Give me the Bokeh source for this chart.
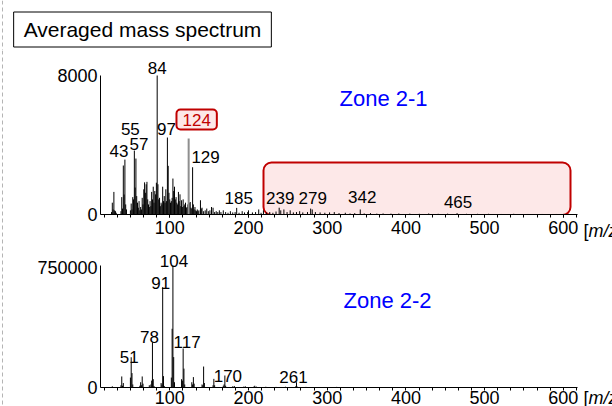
from bokeh.plotting import figure
from bokeh.layouts import column, row
from bokeh.models import (Range1d, FixedTicker, Label, BoxAnnotation, ColumnDataSource,
                          BasicTickFormatter, Span)
from bokeh.embed import file_html
from bokeh.resources import INLINE

# ---------------- data ----------------
x_ticks = [100, 200, 300, 400, 500, 600]
top_y_ticks = [0, 8000]
bot_y_ticks = [0, 750000]

# Zone 2-1 (averaged spectrum, top)
mz_top = [26, 27, 28, 29, 30, 31, 32, 38, 39, 40,
          41, 42, 43, 44, 45, 50, 51, 52, 53, 54,
          55, 56, 57, 58, 59, 60, 61, 62, 63, 64,
          65, 66, 67, 68, 69, 70, 71, 72, 73, 74,
          75, 76, 77, 78, 79, 80, 81, 82, 83, 84,
          85, 86, 87, 88, 89, 90, 91, 92, 93, 94,
          95, 96, 97, 98, 99, 100, 101, 102, 103, 104,
          105, 106, 107, 108, 109, 110, 111, 112, 113, 114,
          115, 116, 117, 118, 119, 120, 121, 122, 123, 125,
          126, 127, 128, 129, 130, 131, 132, 133, 134, 135,
          136, 137, 139, 140, 141, 143, 145, 147, 149, 151,
          153, 155, 157, 159, 161, 163, 165, 168, 171, 174,
          177, 180, 183, 185, 188, 192, 195, 199, 200, 205,
          209, 213, 216, 219, 223, 227, 231, 235, 239, 241,
          245, 249, 253, 257, 261, 265, 269, 275, 279, 281,
          285, 291, 297, 303, 309, 315, 323, 329, 335, 342,
          347, 355, 363, 371, 381, 391, 405, 417, 429, 441,
          453, 465, 477, 491, 505, 521, 537, 555, 573, 591]
int_top = [140, 680, 290, 1300, 240, 190, 100, 190, 1000, 340,
           2820, 1150, 3160, 580, 290, 240, 630, 290, 1000, 870,
           3680, 1550, 3220, 1060, 680, 390, 770, 240, 430, 290,
           960, 580, 1450, 1850, 1250, 1740, 1880, 870, 580, 430,
           770, 480, 1300, 870, 1600, 680, 1350, 1160, 1830, 8000,
           1740, 870, 960, 480, 680, 580, 1600, 770, 1060, 680,
           1450, 770, 4430, 2800, 1250, 870, 680, 770, 960, 2070,
           1350, 1600, 870, 1000, 680, 580, 1300, 770, 1160, 480,
           820, 430, 870, 480, 580, 680, 390, 430, 580, 680,
           720, 390, 340, 2720, 580, 290, 430, 240, 190, 290,
           190, 240, 820, 340, 390, 190, 240, 340, 190, 240,
           430, 390, 140, 190, 140, 240, 140, 240, 140, 100,
           190, 120, 140, 380, 100, 190, 120, 140, 240, 120,
           140, 290, 100, 240, 120, 140, 100, 170, 390, 240,
           290, 140, 240, 120, 140, 190, 120, 140, 340, 290,
           140, 120, 100, 120, 140, 80, 100, 60, 80, 290,
           60, 80, 50, 60, 50, 60, 50, 40, 60, 40,
           50, 80, 40, 40, 40, 30, 40, 30, 30, 30]
mz_marked = [124]
int_marked = [4370]

# Zone 2-2 (bottom)
mz_bot = [27, 38, 39, 40, 41, 50, 51, 52, 53, 62, 63, 64, 65, 66,
          74, 76, 77, 78, 79, 80, 89, 90, 91, 92, 93,
          102, 103, 104, 105, 106, 115, 116, 117, 118, 119,
          128, 129, 130, 131, 141, 142, 143, 144, 155, 156, 157,
          168, 169, 170, 171, 180, 182, 194, 196, 207, 208, 210,
          222, 235, 247, 260, 261, 262, 273, 287, 300, 312, 325, 338]
int_bot = [7600, 14000, 69000, 11000, 28000, 62000, 189000, 90000, 19000, 11000, 33000, 14000, 69000, 24000,
           14000, 19000, 43000, 283000, 52000, 9500, 28000, 19000, 627000, 71000, 9500,
           62000, 367000, 760000, 190000, 33000, 52000, 43000, 244000, 118000, 19000,
           33000, 19000, 65000, 24000, 19000, 14000, 131000, 28000, 14000, 54000, 14000,
           11000, 19000, 75000, 11000, 7600, 9500, 5700, 7600, 6600, 11000, 5700,
           4700, 3800, 4700, 7600, 33000, 5700, 3800, 2800, 2800, 3800, 2400, 1900]

top_label_mz = [84, 55, 57, 43, 97, 129, 185, 239, 279, 342, 465]
bot_label_mz = [104, 91, 78, 117, 51, 170, 261]
marked_label = "124"
zone_top = "Zone 2-1"
zone_bot = "Zone 2-2"
title_text = "Averaged mass spectrum"
unit_bracket = "["
unit_text = "m/z"

assert len(mz_top) == len(int_top) and len(mz_bot) == len(int_bot)

# ---------------- layout constants (page pixels) ----------------
FONT = "Liberation Sans"
PAGE_W = 612
DASH_W = 4
MAIN_W = 576            # page x 4 .. 580
SIDE_W = 32             # page x 580 .. 612
TITLE_H = 50
TOP_H = 194             # page y 50 .. 244
BOT_H = 162             # page y 244 .. 406
X0, X1 = 12, 618
TOP_AX_MAX = 8000
TOP_PX = 8000 / 139.0          # data per px (axis 75..214)
TOP_YMAX = TOP_PX * (214 - 50)
BOT_PX = 6250.0
BOT_AX_MAX = BOT_PX * (387 - 265)
BOT_YMAX = BOT_PX * (387 - 244)
RED = "#c00000"
PINK = "#fde8e8"
DASH_COLOR = "#b4b4b4"

top_offsets = {84: (0, 8), 55: (-4, 22), 57: (3, 15), 43: (-6, 9), 97: (-1, 9),
               129: (13, 10), 185: (2, 10), 239: (1, 10), 279: (2, 11), 342: (2, 12), 465: (1, 11)}
bot_offsets = {104: (1, 5), 91: (-2, 4), 78: (-3, 5), 117: (4, 6), 51: (-2, 0), 170: (3, 0), 261: (-3, 5)}

minor = [k * 100.0 / 6 for k in range(1, 38) if k * 100.0 / 6 < X1]


def px_x(px):
    return X0 + (px - 100) / 477.0 * (X1 - X0)


def blank(w, h, xr, yr):
    p = figure(width=w, height=h, x_range=Range1d(*xr), y_range=Range1d(*yr),
               output_backend="svg", toolbar_location=None,
               x_axis_location=None, y_axis_location=None, min_border=0)
    p.grid.visible = False
    p.outline_line_color = None
    p.background_fill_color = "white"
    p.border_fill_color = "white"
    return p


def make_fig(h, bbot, ymax, yticks, axmax):
    p = figure(width=MAIN_W, height=h, x_range=Range1d(X0, X1), y_range=Range1d(0, ymax),
               output_backend="svg", toolbar_location=None,
               min_border_left=96, min_border_right=3,
               min_border_top=0, min_border_bottom=bbot)
    p.grid.visible = False
    p.outline_line_color = None
    p.background_fill_color = "white"
    p.border_fill_color = "white"
    xa = p.xaxis[0]
    xa.ticker = FixedTicker(ticks=x_ticks, minor_ticks=minor)
    xa.axis_line_color = "black"
    xa.major_tick_line_color = "black"
    xa.minor_tick_line_color = "black"
    xa.major_tick_out = 3
    xa.major_tick_in = 0
    xa.minor_tick_out = 3
    xa.minor_tick_in = 0
    xa.major_label_text_font = FONT
    xa.major_label_text_font_size = "18px"
    xa.major_label_text_color = "black"
    xa.major_label_standoff = 3
    ya = p.yaxis[0]
    ya.ticker = FixedTicker(ticks=yticks, minor_ticks=[])
    ya.formatter = BasicTickFormatter(use_scientific=False)
    ya.bounds = (0, axmax)
    ya.axis_line_color = "black"
    ya.major_tick_out = 0
    ya.major_tick_in = 0
    ya.minor_tick_out = 0
    ya.minor_tick_in = 0
    ya.major_label_text_font = FONT
    ya.major_label_text_font_size = "18px"
    ya.major_label_text_color = "black"
    ya.major_label_standoff = 3
    return p


def lab(p, x, y, text, size="17px", color="black", dx=0, dy=0, align="center", baseline="middle",
        italic=False, **kw):
    p.add_layout(Label(x=x, y=y, text=text, x_offset=dx, y_offset=dy,
                       text_font=FONT, text_font_size=size, text_color=color,
                       text_align=align, text_baseline=baseline,
                       text_font_style="italic" if italic else "normal", **kw))


# ---------------- title strip (full width) ----------------
tf = blank(PAGE_W, TITLE_H, (0, PAGE_W), (0, TITLE_H))
tf.add_layout(Span(location=2, dimension="height", line_color=DASH_COLOR,
                   line_width=1, line_dash="4 3"))
lab(tf, 142, TITLE_H - 29, title_text, size="21px",
    background_fill_color="white", border_line_color="black", border_line_width=1,
    padding=(10, 6))

# ---------------- dashed left border ----------------
body_h = TOP_H + BOT_H
dash = blank(DASH_W, body_h, (0, DASH_W), (0, body_h))
dash.add_layout(Span(location=2, dimension="height", line_color=DASH_COLOR,
                     line_width=1, line_dash="4 3"))

# ---------------- top panel ----------------
p1 = make_fig(TOP_H, 30, TOP_YMAX, top_y_ticks, TOP_AX_MAX)

p1.add_layout(BoxAnnotation(left=px_x(263), right=px_x(570), bottom=-0.5 * TOP_PX,
                            top=(214 - 162) * TOP_PX,
                            fill_color=PINK, fill_alpha=1.0, line_color=RED, line_alpha=1.0,
                            line_width=2, border_radius=8, level="underlay"))

src1 = ColumnDataSource(dict(mz=mz_top, i=int_top))
p1.segment(x0="mz", y0=0, x1="mz", y1="i", source=src1, line_color="black", line_width=1)
src1m = ColumnDataSource(dict(mz=mz_marked, i=int_marked))
p1.segment(x0="mz", y0=0, x1="mz", y1="i", source=src1m, line_color="#8f8f8f", line_width=2)

top_lookup = dict(zip(mz_top, int_top))
for m in top_label_mz:
    dx, dy = top_offsets[m]
    lab(p1, m, top_lookup[m], str(m), dx=dx, dy=dy)

lab(p1, mz_marked[0], int_marked[0], marked_label, color=RED, dx=8, dy=19,
    background_fill_color=PINK, border_line_color=RED, border_line_width=2,
    border_radius=4, padding=(6, 4))

lab(p1, px_x(383), (214 - 98) * TOP_PX, zone_top, size="22px", color="#0000ff")

# ---------------- bottom panel ----------------
p2 = make_fig(BOT_H, 19, BOT_YMAX, bot_y_ticks, BOT_AX_MAX)
p2.xaxis[0].major_tick_out = 0
p2.xaxis[0].major_label_standoff = 0

src2 = ColumnDataSource(dict(mz=mz_bot, i=int_bot))
p2.segment(x0="mz", y0=0, x1="mz", y1="i", source=src2, line_color="black", line_width=1)

bot_lookup = dict(zip(mz_bot, int_bot))
for m in bot_label_mz:
    dx, dy = bot_offsets[m]
    lab(p2, m, bot_lookup[m], str(m), dx=dx, dy=dy)

lab(p2, px_x(387), (387 - 300) * BOT_PX, zone_bot, size="22px", color="#0000ff")

# ---------------- unit stubs at the right ----------------
s1 = blank(SIDE_W, TOP_H, (0, SIDE_W), (0, TOP_H))
lab(s1, 583 - 580, 244 - 230, unit_bracket, size="18px", align="left")
lab(s1, 588 - 580, 244 - 230, unit_text, size="18px", align="left", italic=True)
s2 = blank(SIDE_W, BOT_H, (0, SIDE_W), (0, BOT_H))
lab(s2, 583 - 580, 406 - 397, unit_bracket, size="18px", align="left")
lab(s2, 588 - 580, 406 - 397, unit_text, size="18px", align="left", italic=True)

body = row(dash, column(p1, p2), column(s1, s2))
layout = column(tf, body)
open("out.html", "w").write(file_html(layout, INLINE))
